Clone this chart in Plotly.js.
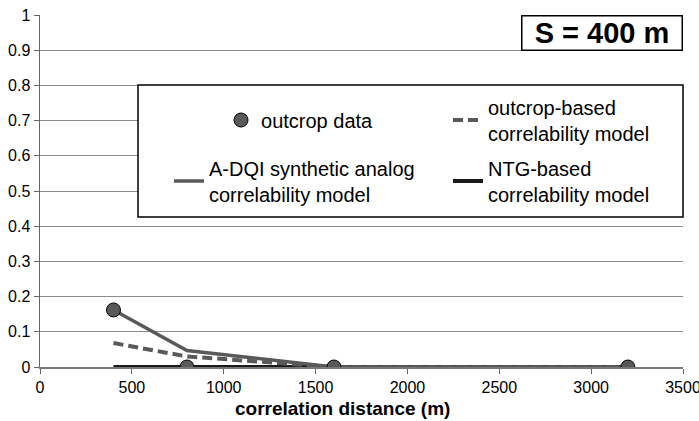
<!DOCTYPE html>
<html>
<head>
<meta charset="utf-8">
<script src="https://cdn.plot.ly/plotly-3.0.1.min.js"></script>
<style>html,body{margin:0;padding:0;background:#fff}#chart{width:699px;height:421px}</style>
</head>
<body>
<div id="chart"></div>
<script>
const distance = [400, 800, 1600, 3200];
const outcropData = [0.162, 0, 0, 0];
const outcropModel = [0.068, 0.03, 0.0, 0.0];
const adqiModel = [0.162, 0.047, 0.0, 0.0];
const ntgModel = [0, 0, 0, 0];
const xTicks = [0, 500, 1000, 1500, 2000, 2500, 3000, 3500];
const yTicks = [0, 0.1, 0.2, 0.3, 0.4, 0.5, 0.6, 0.7, 0.8, 0.9, 1];
const yTickText = ['0', '0.1', '0.2', '0.3', '0.4', '0.5', '0.6', '0.7', '0.8', '0.9', '1'];

const traces = [
  {x: distance, y: ntgModel, mode: 'lines', name: 'NTG-based<br>correlability model',
   line: {color: '#1a1a1a', width: 4}, legend: 'legend4'},
  {x: distance, y: outcropModel, mode: 'lines', name: 'outcrop-based<br>correlability model',
   line: {color: '#595959', width: 4, dash: '10px,5px'}, legend: 'legend3'},
  {x: distance, y: adqiModel, mode: 'lines', name: 'A-DQI synthetic analog<br>correlability model',
   line: {color: '#595959', width: 3.5}, legend: 'legend2'},
  {x: distance, y: outcropData, mode: 'markers', name: 'outcrop data',
   marker: {color: '#595959', size: 14, line: {color: '#000', width: 1}}, legend: 'legend'}
];

function leg(x, y) {
  return {x: x, y: y, xanchor: 'left', yanchor: 'middle', orientation: 'v',
    bgcolor: 'rgba(0,0,0,0)', borderwidth: 0, font: {size: 20, color: '#000'}, itemwidth: 30};
}

const layout = {
  width: 699, height: 421,
  margin: {l: 40, r: 16, t: 15, b: 54},
  paper_bgcolor: '#fff', plot_bgcolor: '#fff',
  font: {family: 'Liberation Sans, Arial, sans-serif', color: '#000', size: 16},
  xaxis: {range: [0, 3500], tickvals: xTicks, ticks: 'outside', ticklen: 5, tickcolor: '#666',
    showgrid: false, zeroline: false, showline: true, linecolor: '#777', linewidth: 1.5,
    tickfont: {size: 16}, ticklabeloverflow: 'allow'},
  yaxis: {range: [0, 1], tickvals: yTicks, ticktext: yTickText, ticks: 'outside', ticklen: 5,
    tickcolor: '#666', showgrid: true, gridcolor: '#8c8c8c', gridwidth: 1, zeroline: false,
    showline: true, linecolor: '#666', linewidth: 1.5, tickfont: {size: 16}},
  showlegend: true,
  legend: leg(0.2815, 0.7017),
  legend2: leg(0.2006, 0.5284),
  legend3: leg(0.6345, 0.7017),
  legend4: leg(0.6345, 0.5284),
  shapes: [{type: 'rect', xref: 'paper', yref: 'paper', x0: 0.1524, x1: 1, y0: 0.4261, y1: 0.8011,
    line: {color: '#000', width: 1.5}, fillcolor: '#fff', layer: 'above'}],
  annotations: [
    {xref: 'paper', yref: 'paper', x: 1, y: 1, xanchor: 'right', yanchor: 'top',
     text: '<b>S = 400 m</b>', showarrow: false, font: {size: 29, color: '#000'},
     width: 159, height: 33, borderpad: 0,
     bgcolor: '#fff', bordercolor: '#000', borderwidth: 1.5},
    {xref: 'paper', yref: 'paper', x: 0.47, y: 0, yshift: -41, xanchor: 'center', yanchor: 'middle',
     text: '<b>correlation distance (m)</b>', showarrow: false, font: {size: 19, color: '#000'}}
  ]
};

Plotly.newPlot('chart', traces, layout, {displayModeBar: false, staticPlot: true});
</script>
</body>
</html>
